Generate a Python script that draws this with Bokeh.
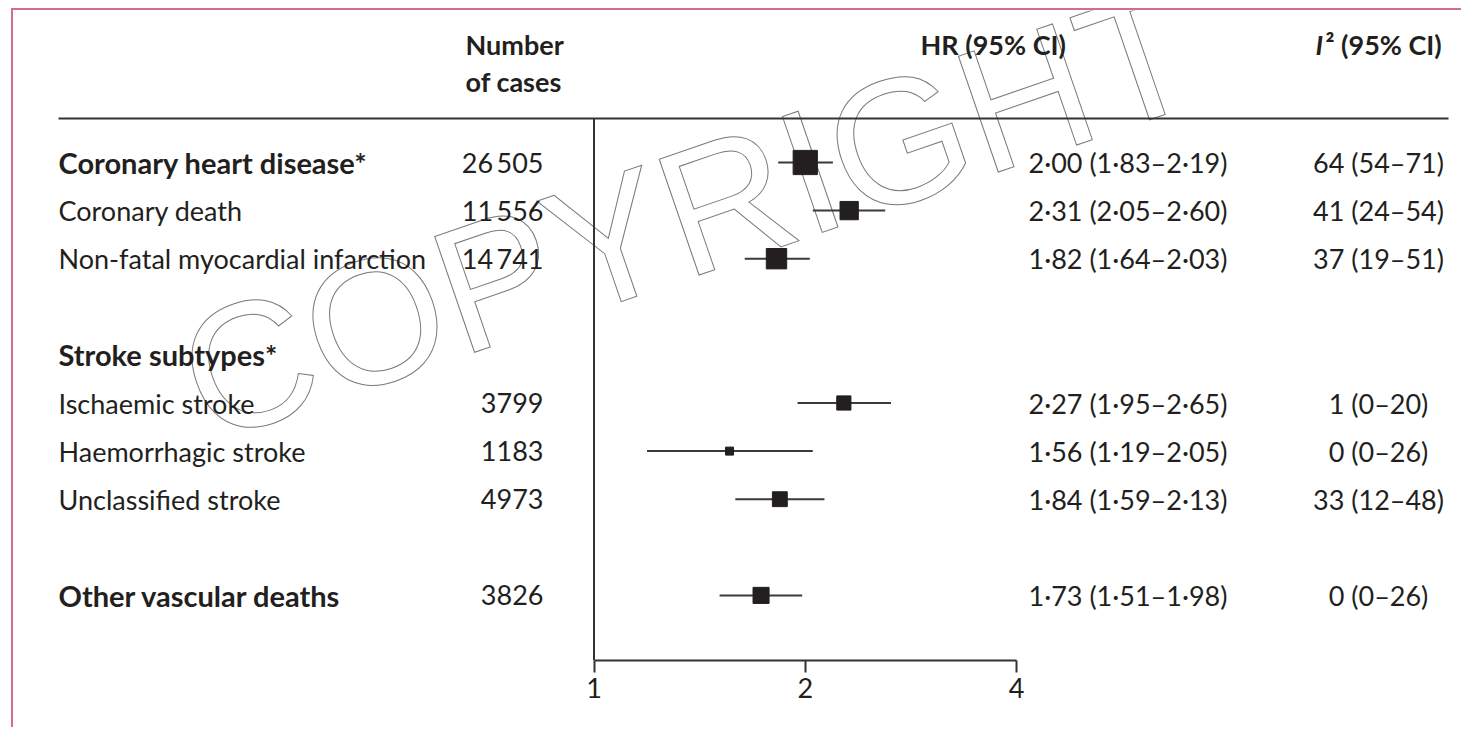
from bokeh.plotting import figure
from bokeh.models import Range1d, LinearScale, FixedTicker, ColumnDataSource
from bokeh.core.properties import value
from bokeh.embed import file_html
from bokeh.resources import INLINE
import math

# ---- data ---------------------------------------------------------------
outcomes = ["Coronary heart disease*", "Coronary death", "Non-fatal myocardial infarction",
            "Ischaemic stroke", "Haemorrhagic stroke", "Unclassified stroke",
            "Other vascular deaths"]
bold_outcome = [True, False, False, False, False, False, True]
row_index = [0, 1, 2, 5, 6, 7, 9]
group_titles = ["Stroke subtypes*"]
group_rows = [4]
cases = [26505, 11556, 14741, 3799, 1183, 4973, 3826]
hr = [2.00, 2.31, 1.82, 2.27, 1.56, 1.84, 1.73]
hr_lo = [1.83, 2.05, 1.64, 1.95, 1.19, 1.59, 1.51]
hr_hi = [2.19, 2.60, 2.03, 2.65, 2.05, 2.13, 1.98]
i2 = [64, 41, 37, 1, 0, 33, 0]
i2_lo = [54, 24, 19, 0, 0, 12, 0]
i2_hi = [71, 54, 51, 20, 26, 48, 26]
axis_ticks = [1, 2, 4]
reference_hr = 1

# ---- layout constants (page pixels) ------------------------------------------
PAGE_W, PAGE_H = 1463, 729
OX, OY = 13, 10          # canvas origin, inside the pink page rules
W, H = PAGE_W - OX, PAGE_H - OY
AXIS_Y = 660             # frame bottom = HR axis line
ROW0, ROW_STEP = 162, 48.1
X_HR1, X_HR4 = 593.5, 1016.0
INK = "#231f20"
LINE = "#333333"
PINK = "#d9698e"
FONT = "Lato"
FS = "27px"
FS_BOLD = "29px"

def row_y(r):
    return ROW0 + ROW_STEP * r

# log HR range such that HR=1 and HR=4 land on the wanted page pixels
per_ln = (X_HR4 - X_HR1) / math.log(4)
hr_start = math.exp((OX - X_HR1) / per_ln)
hr_end = math.exp((PAGE_W - X_HR1) / per_ln)

p = figure(width=W, height=H, output_backend="svg", toolbar_location=None,
           x_axis_type="log", x_range=Range1d(hr_start, hr_end),
           y_range=Range1d(AXIS_Y, OY), y_axis_location=None,
           min_border_left=0, min_border_right=0, min_border_top=0,
           min_border_bottom=PAGE_H - AXIS_Y)
p.styles = {"margin-left": "11px", "margin-top": "8px",
            "border-left": f"2px solid {PINK}", "border-top": f"2px solid {PINK}"}
p.extra_x_ranges = {"px": Range1d(OX, PAGE_W)}
p.extra_x_scales = {"px": LinearScale()}
p.grid.visible = False
p.outline_line_color = None
p.background_fill_color = "white"
p.border_fill_color = "white"

# ---- HR axis -------------------------------------------------------------
ax = p.xaxis[0]
ax.ticker = FixedTicker(ticks=axis_ticks)
ax.bounds = (axis_ticks[0], axis_ticks[-1])
ax.major_label_overrides = {t: str(t) for t in axis_ticks}
ax.minor_tick_line_color = None
ax.major_tick_in = 0
ax.major_tick_out = 12
ax.axis_line_width = 2
ax.axis_line_color = LINE
ax.major_tick_line_width = 2
ax.major_tick_line_color = LINE
ax.major_label_text_font = FONT
ax.major_label_text_font_size = "27px"
ax.major_label_text_color = INK
ax.major_label_standoff = 5

# ---- watermark (outlined lettering, drawn beneath the table) ------------------
p.text(x=[688], y=[213], text=["COPYRIGHT"], x_range_name="px",
       angle=math.radians(19), text_font=value("Liberation Sans"),
       text_font_size="178px", text_align="center", text_baseline="middle",
       text_color="white", text_outline_color="#7a7a7a")

# ---- header ------------------------------------------------------------------
p.text(x=[465, 465, 920], y=[44, 81, 44], text=["Number", "of cases", "HR (95% CI)"],
       x_range_name="px", text_font=value(FONT), text_font_style="bold",
       text_font_size=FS, text_color=INK, text_baseline="middle", text_align="left")
p.text(x=[1315], y=[44], text=["I"], x_range_name="px", text_font=value(FONT),
       text_font_style="bold italic", text_font_size=FS, text_color=INK,
       text_baseline="middle")
p.text(x=[1325], y=[44], text=["\u00b2 (95% CI)"], x_range_name="px", text_font=value(FONT),
       text_font_style="bold", text_font_size=FS, text_color=INK,
       text_baseline="middle")
p.segment(x0=[58], y0=[118], x1=[1448], y1=[118], x_range_name="px",
          line_color=LINE, line_width=2)

# reference line at HR = 1
p.segment(x0=[reference_hr], y0=[118], x1=[reference_hr], y1=[AXIS_Y],
          line_color=LINE, line_width=2)

# ---- table columns -------------------------------------------------------------
def fmt_cases(n):
    s = str(n)
    return s[:-3] + "\u2009" + s[-3:] if n >= 10000 else s

def fmt_hr(v):
    return f"{v:.2f}".replace(".", "\u00b7")

ys = [row_y(r) for r in row_index]
src = ColumnDataSource(dict(
    y=ys, label=outcomes,
    fsize=[FS_BOLD if b else FS for b in bold_outcome],
    style=["bold" if b else "normal" for b in bold_outcome],
    cases=[fmt_cases(n) for n in cases],
    hrtxt=[f"{fmt_hr(a)} ({fmt_hr(b)}\u2013{fmt_hr(c)})" for a, b, c in zip(hr, hr_lo, hr_hi)],
    i2txt=[f"{a} ({b}\u2013{c})" for a, b, c in zip(i2, i2_lo, i2_hi)],
    hr=hr, lo=hr_lo, hi=hr_hi,
    size=[4.35 / math.log(c / b) for b, c in zip(hr_lo, hr_hi)],
    xl=[58] * len(ys), xc=[543] * len(ys), xh=[1028] * len(ys), xi=[1378] * len(ys),
))
common = dict(x_range_name="px", text_font=value(FONT), text_color=INK,
              text_baseline="middle")
p.text(x="xl", y="y", text="label", text_font_size="fsize", text_font_style="style",
       source=src, **common)
p.text(x=[58] * len(group_rows), y=[row_y(r) for r in group_rows], text=group_titles,
       text_font_size=FS_BOLD, text_font_style="bold", **common)
p.text(x="xc", y="y", text="cases", text_font_size=FS, text_align="right",
       source=src, **common)
p.text(x="xh", y="y", text="hrtxt", text_font_size=FS, text_align="left",
       source=src, **common)
p.text(x="xi", y="y", text="i2txt", text_font_size=FS, text_align="center",
       source=src, **common)

# ---- forest marks ------------------------------------------------------------
p.segment(x0="lo", y0="y", x1="hi", y1="y", source=src, line_color="#3a3a3a", line_width=2)
p.scatter(x="hr", y="y", size="size", marker="square", source=src,
          fill_color=INK, line_color=INK)

open("out.html", "w").write(file_html(p, INLINE))
